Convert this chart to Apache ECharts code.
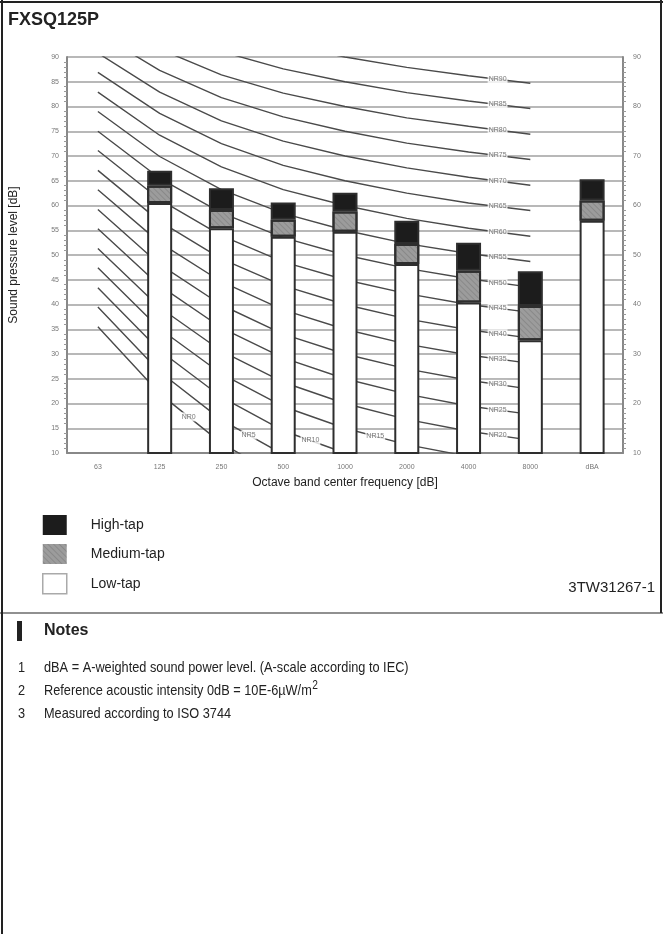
<!DOCTYPE html>
<html><head><meta charset="utf-8">
<script src="https://cdn.jsdelivr.net/npm/echarts@6/dist/echarts.min.js"></script>
<style>html,body{margin:0;padding:0;background:#fff}#c{width:663px;height:934px}</style>
</head><body><div id="c"></div>
<script>
// ---- data ----
const categories = ['63', '125', '250', '500', '1000', '2000', '4000', '8000', 'dBA'];
const lowTop    = [null, 60.5, 55.4, 53.7, 54.7, 48.2, 40.4, 32.8, 56.9];
const mediumTop = [null, 64.0, 59.1, 57.1, 58.8, 52.2, 46.8, 39.7, 61.0];
const highTop   = [null, 67.0, 63.5, 60.6, 62.6, 56.9, 52.5, 46.7, 65.3];

const nrNames = ['NR0','NR5','NR10','NR15','NR20','NR25','NR30','NR35','NR40','NR45',
                 'NR50','NR55','NR60','NR65','NR70','NR75','NR80','NR85','NR90'];
// NR curve levels at 63 ... 8000 Hz
const nrCurves = [
  [35.5, 22.0, 12.0, 4.8, 0.0, -3.5, -6.1, -8.0],
  [39.5, 26.4, 16.7, 9.7, 5.0, 1.6, -1.0, -2.9],
  [43.4, 30.7, 21.3, 14.5, 10.0, 6.7, 4.2, 2.3],
  [47.4, 35.1, 26.0, 19.4, 15.0, 11.7, 9.3, 7.5],
  [51.3, 39.4, 30.6, 24.3, 20.0, 16.8, 14.4, 12.6],
  [55.3, 43.8, 35.3, 29.2, 25.0, 21.9, 19.5, 17.8],
  [59.2, 48.1, 39.9, 34.0, 30.0, 27.0, 24.7, 22.9],
  [63.2, 52.5, 44.6, 38.9, 35.0, 32.0, 29.8, 28.1],
  [67.1, 56.8, 49.2, 43.8, 40.0, 37.1, 34.9, 33.2],
  [71.1, 61.2, 53.9, 48.6, 45.0, 42.2, 40.0, 38.4],
  [75.0, 65.5, 58.5, 53.5, 50.0, 47.3, 45.2, 43.5],
  [79.0, 69.9, 63.2, 58.4, 55.0, 52.3, 50.3, 48.7],
  [82.9, 74.2, 67.8, 63.2, 60.0, 57.4, 55.4, 53.8],
  [86.9, 78.6, 72.5, 68.1, 65.0, 62.5, 60.5, 59.0],
  [90.8, 82.9, 77.1, 73.0, 70.0, 67.6, 65.7, 64.1],
  [94.8, 87.3, 81.8, 77.9, 75.0, 72.6, 70.8, 69.3],
  [98.7, 91.6, 86.4, 82.7, 80.0, 77.7, 76.0, 74.4],
  [102.7, 96.0, 91.1, 87.6, 85.0, 82.8, 81.1, 79.6],
  [106.6, 100.3, 95.7, 92.5, 90.0, 87.9, 86.2, 84.7]
];
// where along the frequency axis (band index) each curve label sits
const nrLabelAt = [1.47, 2.44, 3.44, 4.49, 6.47, 6.47, 6.47, 6.47, 6.47, 6.47,
                   6.47, 6.47, 6.47, 6.47, 6.47, 6.47, 6.47, 6.47, 6.47];

const legendNames = ['High-tap', 'Medium-tap', 'Low-tap'];
const notes = [
  'dBA = A-weighted sound power level. (A-scale according to IEC)',
  'Reference acoustic intensity 0dB = 10E-6\u00b5W/m',
  'Measured according to ISO 3744'
];

// ---- build ----
const FONT = 'Arial, "Liberation Sans", sans-serif';
const NSCALE = 0.85;
const mediumSeg = mediumTop.map((v, i) => v == null ? null : +(v - lowTop[i]).toFixed(2));
const highSeg = highTop.map((v, i) => v == null ? null : +(v - mediumTop[i]).toFixed(2));

function interp(curve, x) {
  const i = Math.floor(x), f = x - i;
  return curve[i] + (curve[i + 1] - curve[i]) * f;
}

const series = [];
nrCurves.forEach((c, k) => {
  series.push({
    type: 'line', xAxisIndex: 0, yAxisIndex: 0, data: c.concat([null]),
    symbol: 'none', silent: true, clip: true, z: 1,
    lineStyle: { color: '#4a4a4a', width: 1.4 }
  });
});
series.push({
  type: 'scatter', xAxisIndex: 1, yAxisIndex: 0, silent: true, z: 4,
  symbolSize: 0,
  data: nrCurves.map((c, k) => ({ value: [nrLabelAt[k], interp(c, nrLabelAt[k])], name: nrNames[k] })),
  label: {
    show: true, position: 'inside', formatter: p => p.name,
    fontSize: 7, fontFamily: FONT, color: '#555', backgroundColor: '#fff', padding: [1, 1]
  }
});
const barBase = { type: 'bar', stack: 'tap', barWidth: 25, clip: true, z: 5, xAxisIndex: 0, yAxisIndex: 0 };
series.push(Object.assign({}, barBase, { name: 'Low-tap', data: lowTop,
  itemStyle: { color: '#ffffff', borderColor: '#2e2e2e', borderWidth: 2 } }));
series.push(Object.assign({}, barBase, { name: 'Medium-tap', data: mediumSeg,
  itemStyle: { color: '#9c9c9c', borderColor: '#2e2e2e', borderWidth: 2,
    decal: { symbol: 'rect', symbolSize: 1, dashArrayX: [[1, 0]], dashArrayY: [1, 3],
             rotation: Math.PI / 4, color: 'rgba(80,80,80,0.25)' } } }));
series.push(Object.assign({}, barBase, { name: 'High-tap', data: highSeg,
  itemStyle: { color: '#1c1c1c', borderColor: '#2e2e2e', borderWidth: 2 } }));

const axisLabelStyle = { fontSize: 7, color: '#777', fontFamily: FONT };

const graphics = [
  { type: 'line', shape: { x1: 2, y1: 0, x2: 2, y2: 934 }, style: { stroke: '#222', lineWidth: 2 } },
  { type: 'line', shape: { x1: 0, y1: 2, x2: 663, y2: 2 }, style: { stroke: '#222', lineWidth: 2 } },
  { type: 'line', shape: { x1: 661, y1: 0, x2: 661, y2: 613 }, style: { stroke: '#222', lineWidth: 2 } },
  { type: 'line', shape: { x1: 0, y1: 613, x2: 663, y2: 613 }, style: { stroke: '#222', lineWidth: 1.2 } },
  { type: 'text', x: 8, y: 20, style: { text: 'FXSQ125P', font: 'bold 18px ' + FONT, fill: '#222', verticalAlign: 'middle' } },
  { type: 'text', x: 655, y: 588, style: { text: '3TW31267-1', font: '15px ' + FONT, fill: '#222', align: 'right', verticalAlign: 'middle' } },
  { type: 'rect', shape: { x: 17, y: 621, width: 5, height: 20 }, style: { fill: '#222' } },
  { type: 'text', x: 44, y: 631, style: { text: 'Notes', font: 'bold 16px ' + FONT, fill: '#222', verticalAlign: 'middle' } }
];
notes.forEach((t, i) => {
  const y = 668 + i * 23;
  graphics.push({ type: 'text', x: 18, y: y, scaleX: NSCALE, style: { text: String(i + 1), font: '15px ' + FONT, fill: '#222', verticalAlign: 'middle' } });
  graphics.push({ type: 'text', x: 44, y: y, scaleX: NSCALE, style: { text: t, font: '15px ' + FONT, fill: '#222', verticalAlign: 'middle' } });
});
graphics.push({ type: 'text', x: 0, y: 0, id: 'sup', scaleX: NSCALE, style: { text: '2', font: '10px ' + FONT, fill: '#222', verticalAlign: 'middle' } });

const chart = echarts.init(document.getElementById('c'), null, { renderer: 'canvas' });
chart.setOption({
  animation: false,
  backgroundColor: '#fff',
  grid: { left: 65, right: 40, top: 57, bottom: 481, containLabel: false },
  legend: {
    orient: 'vertical', left: 37, top: 510, itemWidth: 24, itemHeight: 20, itemGap: 9,
    icon: 'rect', selectedMode: false,
    data: [
      { name: 'High-tap', itemStyle: { borderWidth: 0 } },
      { name: 'Medium-tap', itemStyle: { borderWidth: 0 } },
      { name: 'Low-tap', itemStyle: { borderColor: '#aaa', borderWidth: 1.5 } }
    ],
    textStyle: { fontSize: 14, color: '#222', fontFamily: FONT, padding: [0, 0, 0, 19] }
  },
  xAxis: [{
    type: 'category', data: categories, boundaryGap: true,
    axisLine: { onZero: false, lineStyle: { color: '#888', width: 2 } }, axisTick: { show: false },
    axisLabel: Object.assign({ margin: 11 }, axisLabelStyle),
    name: 'Octave band center frequency [dB]', nameLocation: 'middle', nameGap: 24,
    nameTextStyle: { fontSize: 12, color: '#222', fontFamily: FONT }
  }, {
    type: 'value', min: -0.5, max: 8.5, show: false
  }],
  yAxis: [{
    type: 'value', min: 10, max: 90, interval: 5, position: 'left',
    axisLine: { show: true, onZero: false, lineStyle: { color: '#888', width: 2 } },
    axisTick: { show: false },
    minorTick: { show: true, splitNumber: 5, length: 3, lineStyle: { color: '#999' } },
    splitLine: { show: true, lineStyle: { color: '#a0a0a0', width: 1.5 } },
    axisLabel: Object.assign({ margin: 8 }, axisLabelStyle),
    name: 'Sound pressure level [dB]', nameLocation: 'middle', nameGap: 47, nameRotate: 90,
    nameTextStyle: { fontSize: 12, color: '#222', fontFamily: FONT }
  }, {
    type: 'value', min: 10, max: 90, interval: 10, position: 'right',
    axisLine: { show: true, onZero: false, lineStyle: { color: '#888', width: 2 } },
    axisTick: { show: false },
    minorTick: { show: true, splitNumber: 10, length: 3, lineStyle: { color: '#999' } },
    splitLine: { show: false },
    axisLabel: Object.assign({ margin: 10 }, axisLabelStyle)
  }],
  series: series,
  graphic: graphics
});
const ctx = document.createElement('canvas').getContext('2d');
ctx.font = '15px ' + FONT;
const w2 = ctx.measureText(notes[1]).width * NSCALE;
chart.setOption({ graphic: [{ id: 'sup', x: 44 + w2 + 0.5, y: 668 + 23 - 5 }] });
</script></body></html>
